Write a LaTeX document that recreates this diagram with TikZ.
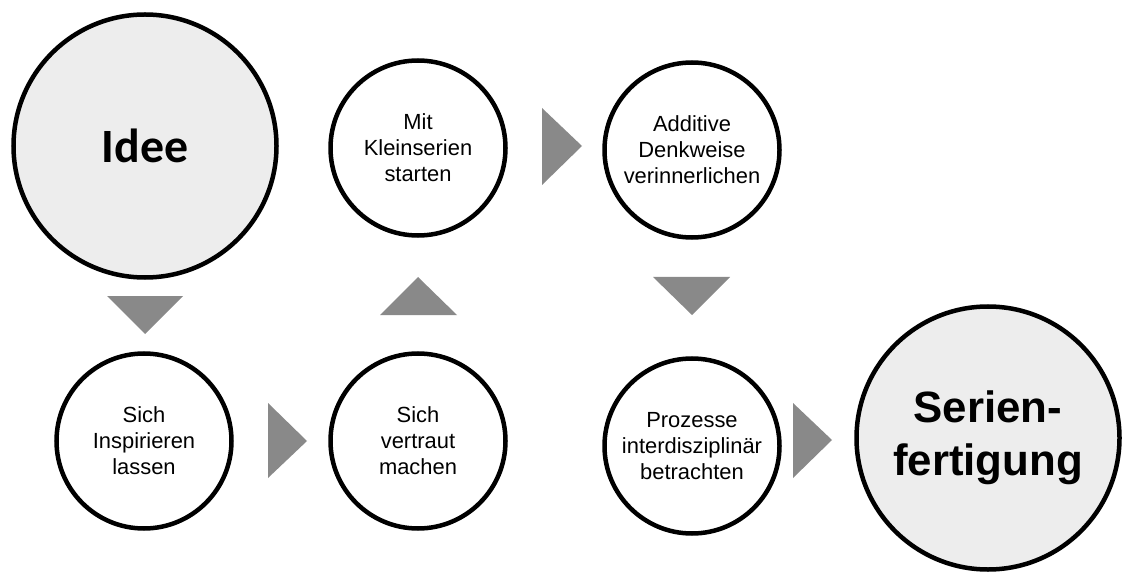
\documentclass[tikz,border=0pt]{standalone}
\usepackage{fontspec}
\setmainfont{Liberation Sans}
\newfontfamily\idfont{Carlito}
\definecolor{circfill}{HTML}{EDEDED}
\definecolor{trigray}{HTML}{898989}
\begin{document}
\begin{tikzpicture}[x=1bp,y=-1bp,
  bigc/.style={circle,draw=black,line width=4.5bp,fill=circfill,minimum size=263bp,inner sep=0pt,align=center},
  smallc/.style={circle,draw=black,line width=4.5bp,fill=white,minimum size=175bp,inner sep=0pt,align=center,font=\fontsize{22}{26}\selectfont},
  tri/.style={fill=trigray,draw=none}]
\useasboundingbox (0,0) rectangle (1123,572);
\node[bigc,font=\idfont\bfseries\fontsize{48}{56}\selectfont] (idee) at (145,146) {Idee};
\node[smallc] (klein) at (418,148) {Mit\\Kleinserien\\starten};
\node[smallc] (add) at (692,150) {Additive\\Denkweise\\verinnerlichen};
\node[smallc] (insp) at (144,441) {Sich\\Inspirieren\\lassen};
\node[smallc] (vertr) at (418,441) {Sich\\vertraut\\machen};
\node[smallc] (proz) at (692,446) {Prozesse\\interdisziplinär\\betrachten};
\node[bigc,font=\bfseries\fontsize{44}{53}\selectfont] (serie) at (988,438) {Serien-\\fertigung};
% arrow triangles
\fill[tri] (107,296) -- (183,296) -- (145,334) -- cycle;
\fill[tri] (268,403) -- (268,478) -- (307,441) -- cycle;
\fill[tri] (380,315) -- (457,315) -- (418,277) -- cycle;
\fill[tri] (542,108) -- (542,185) -- (582,146) -- cycle;
\fill[tri] (653,277) -- (730,277) -- (692,315) -- cycle;
\fill[tri] (793,403) -- (793,478) -- (832,440) -- cycle;
\end{tikzpicture}
\end{document}
